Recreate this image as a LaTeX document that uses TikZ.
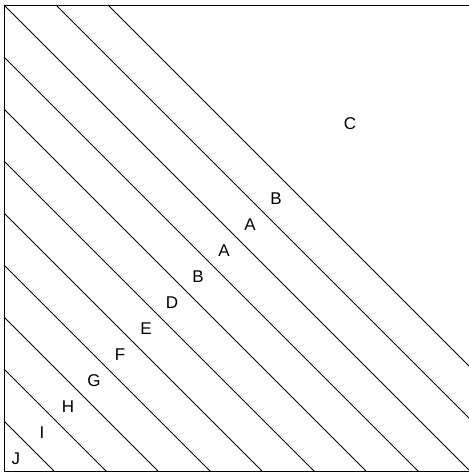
\documentclass[tikz,border=0pt]{standalone}
\usepackage{fontspec}
\setmainfont{Liberation Sans}

\begin{document}
\begin{tikzpicture}[x=1pt,y=-1pt,frame/.style={line width=1pt},hatch/.style={line width=1pt},lbl/.style={font=\fontsize{17}{20}\selectfont,inner sep=0pt}]
\useasboundingbox (0,0) rectangle (469,475);
\draw[frame] (4,5) rectangle (470,471);
\foreach \k in {0,...,8} {\draw[hatch] (4,5+52*\k) -- (470-52*\k,471);}
\foreach \j in {1,2} {\draw[hatch] (4+52*\j,5) -- (470,471-52*\j);}
\foreach \t/\k in {J/9,I/8,H/7,G/6,F/5,E/4,D/3,B/2,A/1,A/0,B/-1} {\node[lbl] (s\k) at (250-26*\k,225+26*\k) {\t};}
\node[lbl] (top) at (350,124) {C};
\end{tikzpicture}
\end{document}
